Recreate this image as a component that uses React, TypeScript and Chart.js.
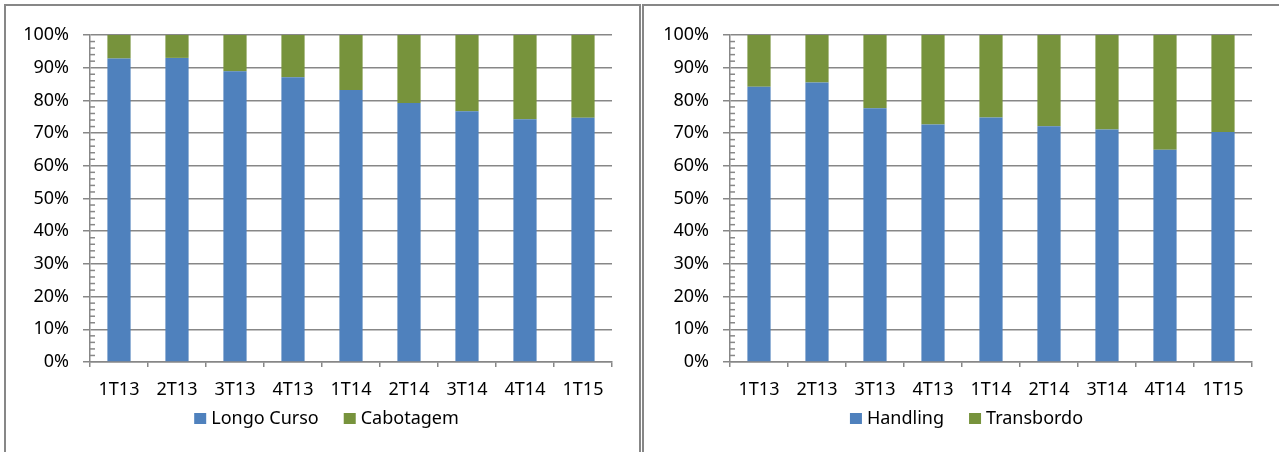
import React, { useEffect, useRef } from 'react';
import { Chart, registerables } from 'chart.js';

Chart.register(...registerables);

const categories = ['1T13', '2T13', '3T13', '4T13', '1T14', '2T14', '3T14', '4T14', '1T15'];
const longoCurso = [92.8, 93.0, 88.9, 87.1, 83.2, 79.2, 76.7, 74.2, 74.7];
const cabotagem = [7.2, 7.0, 11.1, 12.9, 16.8, 20.8, 23.3, 25.8, 25.3];
const handling = [84.2, 85.5, 77.6, 72.6, 74.8, 72.1, 71.1, 64.9, 70.3];
const transbordo = [15.8, 14.5, 22.4, 27.4, 25.2, 27.9, 28.9, 35.1, 29.7];
const yTickValues = [0, 10, 20, 30, 40, 50, 60, 70, 80, 90, 100];

const BLUE = '#4F81BD';
const GREEN = '#77933C';
const GRID = '#878787';
const FONT = { family: '"Noto Sans", sans-serif', size: 18 };
const CW = 633;
const CH = 446;

const extrasPlugin = {
  id: 'excelExtras',
  afterDraw(chart: any) {
    const ctx = chart.ctx;
    const ys = chart.scales.y;
    const ca = chart.chartArea;
    ctx.save();
    // minor ticks (inside)
    ctx.strokeStyle = GRID;
    ctx.lineWidth = 1.5;
    for (let i = 0; i < yTickValues.length - 1; i++) {
      const a = yTickValues[i];
      const b = yTickValues[i + 1];
      for (let k = 1; k < 5; k++) {
        const py = ys.getPixelForValue(a + ((b - a) * k) / 5);
        ctx.beginPath();
        ctx.moveTo(ca.left, py);
        ctx.lineTo(ca.left + 5, py);
        ctx.stroke();
      }
    }
    // legend
    ctx.font = `${FONT.size}px ${FONT.family}`;
    ctx.textBaseline = 'middle';
    ctx.textAlign = 'left';
    const items = chart.data.datasets.map((d: any) => ({
      label: d.label,
      color: d.backgroundColor,
      w: ctx.measureText(d.label).width,
    }));
    const box = 12;
    const gapText = 5;
    const gapItem = 25;
    let total = 0;
    items.forEach((it: any, i: number) => {
      total += box + gapText + it.w + (i < items.length - 1 ? gapItem : 0);
    });
    let x = chart.width / 2 + 4 - total / 2;
    const cy = 412.5;
    items.forEach((it: any) => {
      ctx.fillStyle = it.color;
      ctx.fillRect(x, cy - 5.5, box, 11);
      ctx.fillStyle = '#000';
      ctx.fillText(it.label, x + box + gapText, cy);
      x += box + gapText + it.w + gapItem;
    });
    ctx.restore();
  },
};

function makeConfig(labelA: string, dataA: number[], labelB: string, dataB: number[]): any {
  return {
    type: 'bar',
    data: {
      labels: categories,
      datasets: [
        { label: labelA, data: dataA, backgroundColor: BLUE, borderWidth: 0, categoryPercentage: 0.4, barPercentage: 1 },
        { label: labelB, data: dataB, backgroundColor: GREEN, borderWidth: 0, categoryPercentage: 0.4, barPercentage: 1 },
      ],
    },
    options: {
      responsive: false,
      animation: false,
      devicePixelRatio: 1,
      layout: { padding: { left: 0, top: 29, right: 27, bottom: 50 } },
      plugins: { legend: { display: false }, tooltip: { enabled: false } },
      scales: {
        x: {
          stacked: true,
          ticks: { color: '#000', font: FONT, padding: 12, maxRotation: 0 },
          grid: { drawOnChartArea: false, drawTicks: true, tickLength: 5, color: GRID, lineWidth: 1.5, offset: true },
          border: { color: GRID, width: 1.5 },
          afterFit(s: any) { s.height = 40; },
        },
        y: {
          stacked: true,
          min: 0,
          max: 100,
          ticks: { stepSize: 10, color: '#000', font: FONT, padding: 14, callback: (v: any) => v + '%' },
          grid: { color: GRID, lineWidth: 1.5, tickLength: 7, drawTicks: true },
          border: { color: GRID, width: 1.5 },
          afterFit(s: any) { s.width = 84; },
        },
      },
    },
    plugins: [extrasPlugin],
  };
}

function ChartCanvas({ cfg, left }: { cfg: () => any; left: number }) {
  const ref = useRef<HTMLCanvasElement | null>(null);
  useEffect(() => {
    if (!ref.current) return;
    const chart = new Chart(ref.current, cfg());
    return () => chart.destroy();
  }, []);
  return (
    <canvas
      ref={ref}
      width={CW}
      height={CH}
      style={{ position: 'absolute', left, top: 6, width: CW, height: CH }}
    />
  );
}

export default function App() {
  return (
    <div style={{ position: 'fixed', left: 0, top: 0, width: 1279, height: 452, background: '#fff', overflow: 'hidden' }}>
      <div style={{ position: 'absolute', left: 4, top: 4, width: 637, height: 470, border: `2px solid ${GRID}`, boxSizing: 'border-box' }} />
      <div style={{ position: 'absolute', left: 642, top: 4, width: 660, height: 470, border: `2px solid ${GRID}`, boxSizing: 'border-box' }} />
      <ChartCanvas left={6} cfg={() => makeConfig('Longo Curso', longoCurso, 'Cabotagem', cabotagem)} />
      <ChartCanvas left={646} cfg={() => makeConfig('Handling', handling, 'Transbordo', transbordo)} />
    </div>
  );
}
